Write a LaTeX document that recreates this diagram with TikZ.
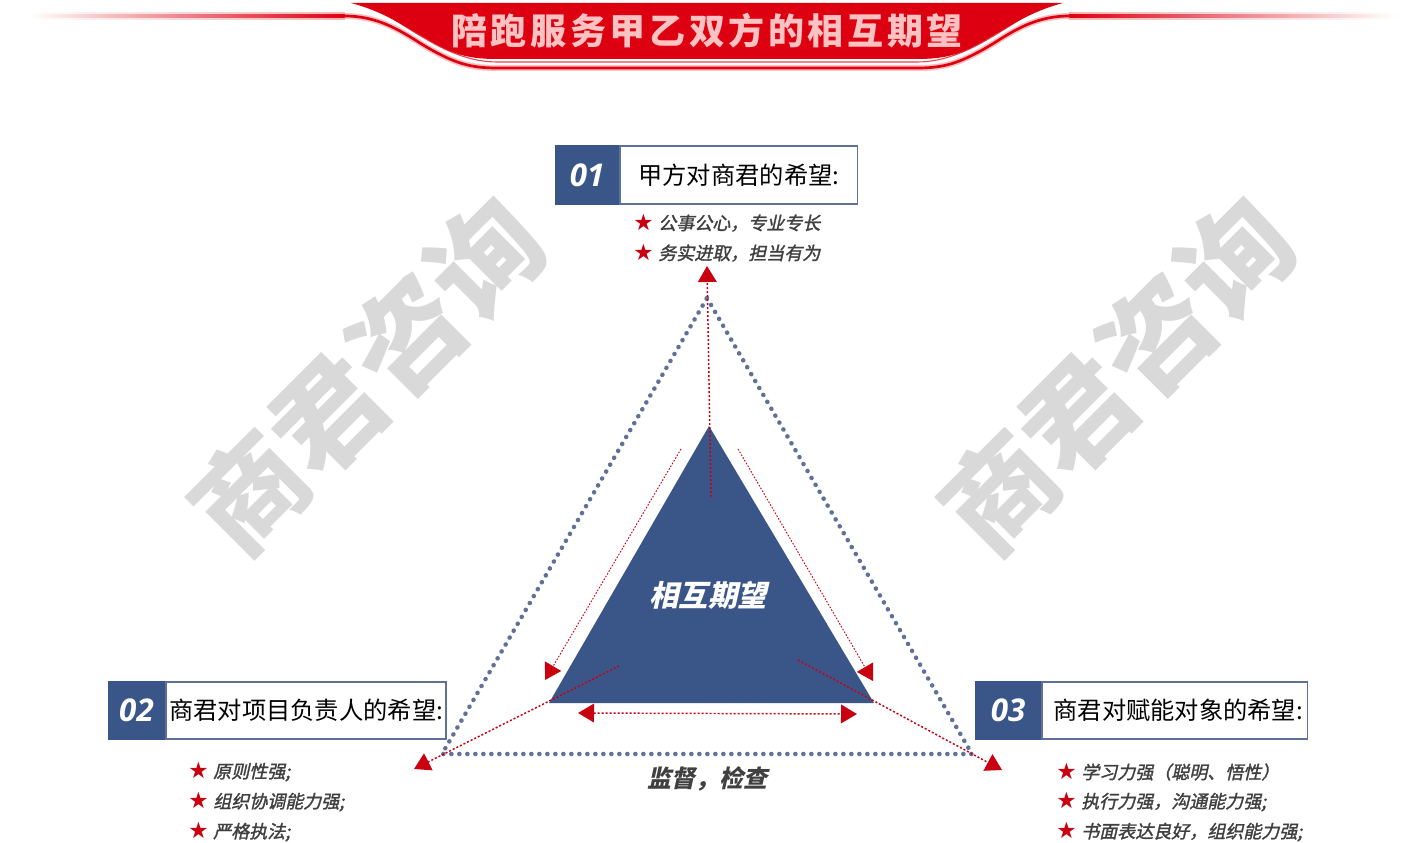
\documentclass[tikz,border=0pt]{standalone}
\usepackage{fontspec}
\setmainfont{Noto Sans CJK SC}
\newfontfamily\slantcjk[FakeSlant=0.22,BoldFeatures={FakeSlant=0.22}]{Noto Sans CJK SC}
\newfontfamily\itemcjk[FakeSlant=0.22,FakeBold=1.6]{Noto Sans CJK SC}
\newfontfamily\numfont{Open Sans}
\newfontfamily\starfont{DejaVu Sans}
\usetikzlibrary{arrows.meta, positioning}
\definecolor{navy}{HTML}{3A5689}
\definecolor{slateblue}{HTML}{5F7196}
\definecolor{darkred}{HTML}{C80010}
\definecolor{bannerred}{HTML}{DC0010}
\definecolor{inkgray}{HTML}{404040}
\newcommand{\redstar}{\raisebox{-0.7pt}{\starfont\color{darkred}\fontsize{17pt}{17pt}\selectfont ★}\hspace{3.5pt}}
\newcommand{\swoosh}{(345,16) .. controls (385,16) and (410,38) .. (430,49) .. controls (455,63) and (470,68) .. (497,68) -- (917,68) .. controls (944,68) and (959,63) .. (984,49) .. controls (1004,38) and (1029,16) .. (1069,16)}

\begin{document}
\begin{tikzpicture}[x=0.75pt,y=-0.75pt,
  numbox/.style={fill=navy,text=white,inner sep=0pt,minimum height=45pt,font=\numfont\bfseries\itshape\fontsize{23.5pt}{26pt}\selectfont},
  titlebox/.style={draw=slateblue,line width=1.4pt,text=black,inner sep=0pt,minimum height=43.6pt,font=\fontsize{18.2pt}{22pt}\selectfont},
  itemtext/.style={anchor=west,inner sep=0pt,text=inkgray,font=\itemcjk\fontsize{13.5pt}{16pt}\selectfont},
  watermark/.style={rotate=45,text=black!15,font=\bfseries\fontsize{83pt}{90pt}\selectfont},
  dotline/.style={slateblue,line width=3.4pt,line cap=round,dash pattern=on 0.1pt off 5.9pt},
  reddash/.style={darkred,line width=1.1pt,dash pattern=on 1.5pt off 1.5pt,-{Triangle[length=12pt,width=14pt]}},
  thindash/.style={reddash,line width=0.7pt,dash pattern=on 1.2pt off 1.2pt}]
\useasboundingbox (0,0) rectangle (1426,842);

\node[watermark] (markL) at (367,375) {商君咨询};
\node[watermark] (markR) at (1117,375) {商君咨询};

% banner
\shade[left color=white,middle color=red!22,right color=red!30] (25,12.5) rectangle (345,19.5);
\shade[left color=red!30,middle color=red!22,right color=white] (1069,12.5) rectangle (1400,19.5);
\shade[left color=white,middle color=bannerred!80,right color=bannerred] (30,14.8) rectangle (345,17.2);
\shade[left color=bannerred,middle color=bannerred!80,right color=white] (1069,14.8) rectangle (1395,17.2);
\draw[red!25,line width=4.5pt] \swoosh;
\draw[bannerred,line width=2pt] \swoosh;
\draw[bannerred!75,line width=0.8pt] (390,17) .. controls (420,35) and (455,62) .. (497,62) -- (917,62) .. controls (959,62) and (994,35) .. (1024,17);
\fill[bannerred] (351,3) -- (1063,3) .. controls (1029,12) and (1009,27) .. (989,38) .. controls (964,53) and (949,59) .. (917,59) -- (497,59) .. controls (465,59) and (450,53) .. (425,38) .. controls (405,27) and (385,12) .. (351,3) -- cycle;
\node[text=red!24,inner sep=0pt,font=\bfseries\fontsize{27pt}{30pt}\selectfont] (title) at (707,31) {\addfontfeature{LetterSpace=10}陪跑服务甲乙双方的相互期望};

% boxes
\node[numbox,minimum width=48pt] (num1) at (587,175) {01};
\node[titlebox,minimum width=178pt,right=0pt of num1] (head1) {甲方对商君的希望:};
\node[numbox,minimum width=42.75pt,minimum height=44.25pt] (num2) at (136.5,710.5) {02};
\node[titlebox,minimum width=210pt,minimum height=43pt,right=0pt of num2] (head2) {商君对项目负责人的希望:};
\node[numbox,minimum width=49.5pt,minimum height=44.25pt] (num3) at (1008,710.5) {03};
\node[titlebox,minimum width=199pt,minimum height=43pt,right=0pt of num3] (head3) {\hspace*{5pt}商君对赋能对象的希望:};

% lists
\node[itemtext] (item11) at (633,223) {\redstar 公事公心，专业专长};
\node[itemtext] (item12) at (633,253) {\redstar 务实进取，担当有为};
\node[itemtext] (item21) at (188,772) {\redstar 原则性强;};
\node[itemtext] (item22) at (188,802) {\redstar 组织协调能力强;};
\node[itemtext] (item23) at (188,832) {\redstar 严格执法;};
\node[itemtext] (item31) at (1056,772) {\redstar 学习力强（聪明、悟性）};
\node[itemtext] (item32) at (1056,802) {\redstar 执行力强，沟通能力强;};
\node[itemtext] (item33) at (1056,832) {\redstar 书面表达良好，组织能力强;};

% triangles
\coordinate (outT) at (707,298);
\coordinate (outL) at (442,754);
\coordinate (outR) at (972,754);
\coordinate (inT) at (709,426);
\coordinate (inL) at (549,703);
\coordinate (inR) at (874,703);
\draw[dotline] (outT) -- (outR) -- (outL) -- cycle;
\fill[navy] (inT) -- (inR) -- (inL) -- cycle;
\node[text=white,inner sep=0pt,font=\slantcjk\bfseries\fontsize{22pt}{26pt}\selectfont] (mutual) at (708,595) {相互期望};
\node[text=inkgray,inner sep=0pt,font=\slantcjk\bfseries\fontsize{18pt}{22pt}\selectfont] (check) at (707,779) {监督，检查};

% red arrows
\coordinate (a1) at (711,497);
\coordinate (b1) at (707,266);
\coordinate (a2) at (619,666);
\coordinate (b2) at (414,769);
\coordinate (a3) at (798,660);
\coordinate (b3) at (1002,770);
\coordinate (a4) at (681,449);
\coordinate (b4) at (545,680);
\coordinate (a5) at (738,449);
\coordinate (b5) at (873,681);
\coordinate (a6) at (578,713);
\coordinate (b6) at (857,714);
\draw[reddash] (a1) -- (b1);
\draw[reddash] (a2) -- (b2);
\draw[reddash] (a3) -- (b3);
\draw[thindash] (a4) -- (b4);
\draw[thindash] (a5) -- (b5);
\draw[reddash,{Triangle[length=12pt,width=14pt]}-{Triangle[length=12pt,width=14pt]}] (a6) -- (b6);
\end{tikzpicture}
\end{document}
